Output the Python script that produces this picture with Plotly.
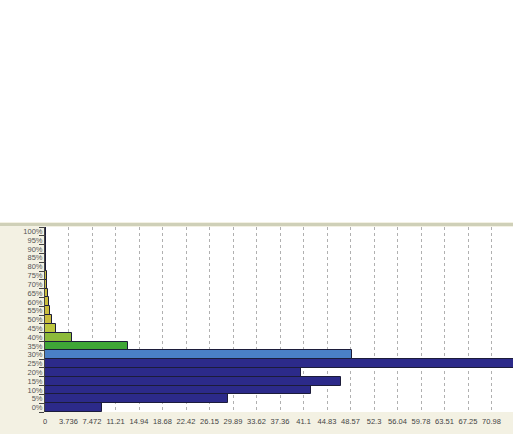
import plotly.graph_objects as go

categories = ["0%", "5%", "10%", "15%", "20%", "25%", "30%", "35%", "40%", "45%", "50%",
              "55%", "60%", "65%", "70%", "75%", "80%", "85%", "90%", "95%", "100%"]
values = [9.1, 29.1, 42.3, 47.1, 40.7, 80.0, 48.8, 13.2, 4.3, 1.7, 1.05,
          0.8, 0.62, 0.48, 0.38, 0.3, 0.22, 0.18, 0.15, 0.12, 0.1]
x_ticks = [0, 3.736, 7.472, 11.208, 14.944, 18.68, 22.416, 26.152, 29.888, 33.624, 37.36,
           41.096, 44.832, 48.568, 52.304, 56.04, 59.776, 63.512, 67.248, 70.984, 74.72]
x_tick_labels = ["0", "3.736", "7.472", "11.21", "14.94", "18.68", "22.42", "26.15", "29.89",
                 "33.62", "37.36", "41.1", "44.83", "48.57", "52.3", "56.04", "59.78",
                 "63.51", "67.25", "70.98", "74.72"]

bar_colors = ["#2c2a8a"] * 6 + ["#4a80c6", "#3fa637", "#8cba3a", "#bcc63e"] + ["#c9bc3c"] * 11

fig = go.Figure(go.Bar(
    y=categories, x=values, orientation="h",
    marker=dict(color=bar_colors, line=dict(color="#1c1c3a", width=1)),
))

# plot area in page px: x 45..513, y 227..412
H = 412 - 227
fig.update_layout(
    width=513, height=434,
    margin=dict(l=45, r=0, t=227, b=22),
    paper_bgcolor="#f3f1e3",
    plot_bgcolor="#ffffff",
    bargap=0,
    showlegend=False,
    xaxis=dict(range=[0, 74.4], tickvals=x_ticks, ticktext=x_tick_labels,
               showgrid=True, gridcolor="#b0b0b0", griddash="dot", gridwidth=1,
               zeroline=False, showline=False, ticks="", ticklabelstandoff=3,
               tickfont=dict(family="Liberation Sans", size=7.5, color="#444444"),
               tickangle=0),
    yaxis=dict(type="category", categoryorder="array", categoryarray=categories,
               tickmode="array", tickvals=categories, ticktext=categories,
               showgrid=False, zeroline=False, showline=True, linecolor="#444444",
               linewidth=1, ticks="outside", ticklen=5, tickcolor="#444444",
               tickson="boundaries",
               tickfont=dict(family="Liberation Sans", size=7.5, color="#555555")),
    shapes=[
        dict(type="rect", xref="paper", yref="paper", layer="above",
             x0=-45 / 468, x1=1.0, y0=(412 - 222) / H, y1=(412 - 0) / H,
             fillcolor="#ffffff", line=dict(width=0)),
        dict(type="line", xref="paper", yref="paper", layer="above",
             x0=-45 / 468, x1=1.0, y0=(412 - 224.5) / H, y1=(412 - 224.5) / H,
             line=dict(color="#cfd0b8", width=3)),
    ],
)

fig.write_html("out.html", config={"displayModeBar": False},
               post_script="document.body.style.margin='0';document.body.style.overflow='hidden';")
